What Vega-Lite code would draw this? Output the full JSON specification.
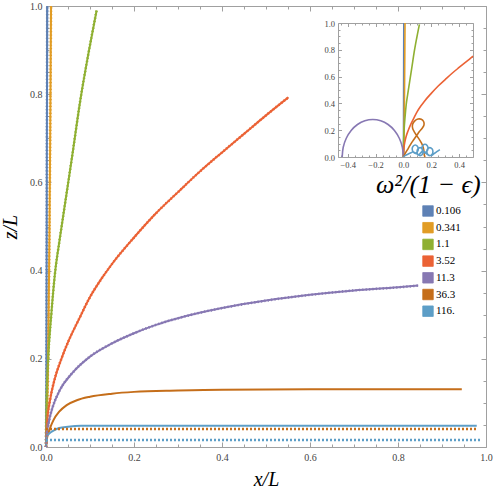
{
  "$schema": "https://vega.github.io/schema/vega-lite/v6.json",
  "width": 440,
  "height": 441,
  "autosize": {"type": "none"},
  "padding": {"left": 46, "top": 6, "right": 7, "bottom": 48},
  "background": "white",
  "config": {
    "view": {"stroke": null},
    "axis": {
      "grid": false,
      "labelFlush": false,
      "domainColor": "#a0a0a0",
      "domainWidth": 1,
      "tickColor": "#a0a0a0",
      "tickWidth": 1,
      "labelFont": "Liberation Serif",
      "labelColor": "#444444",
      "labelFontSize": 10,
      "titleFont": "Liberation Serif",
      "titleFontStyle": "italic",
      "titleFontWeight": "normal",
      "titleColor": "#000000",
      "titleFontSize": 20,
      "labelOverlap": false
    },
    "legend": {
      "orient": "none",
      "legendX": 330,
      "legendY": 166,
      "padding": 0,
      "titleFont": "Liberation Serif",
      "titleFontStyle": "italic",
      "titleFontWeight": "normal",
      "titleFontSize": 26,
      "titleColor": "#000000",
      "titleAnchor": "start",
      "titleAlign": "left",
      "titlePadding": 7,
      "labelFont": "Liberation Serif",
      "labelFontSize": 11,
      "labelColor": "#000000",
      "labelOffset": 2,
      "symbolOffset": 46,
      "symbolType": "square",
      "symbolSize": 110,
      "symbolStrokeColor": "rgba(0,0,0,0.35)",
      "symbolStrokeWidth": 0.8,
      "symbolOpacity": 1,
      "rowPadding": 2.7
    }
  },
  "datasets": {
    "main": [
      {"w": "0.106", "x": 0, "z": 0}, {"w": "0.106", "x": 0.0008, "z": 0.15}, {"w": "0.106", "x": 0.0012, "z": 0.3}, {"w": "0.106", "x": 0.0016, "z": 0.5}, {"w": "0.106", "x": 0.002, "z": 0.7}, {"w": "0.106", "x": 0.0024, "z": 0.85}, {"w": "0.106", "x": 0.0028, "z": 1.0},
      {"w": "0.341", "x": 0, "z": 0}, {"w": "0.341", "x": 0.002, "z": 0.05}, {"w": "0.341", "x": 0.004, "z": 0.15}, {"w": "0.341", "x": 0.006, "z": 0.3}, {"w": "0.341", "x": 0.008, "z": 0.5}, {"w": "0.341", "x": 0.0095, "z": 0.7}, {"w": "0.341", "x": 0.0105, "z": 0.85}, {"w": "0.341", "x": 0.0115, "z": 1.0},
      {"w": "1.1", "x": 0, "z": 0}, {"w": "1.1", "x": 0.001, "z": 0.09}, {"w": "1.1", "x": 0.005, "z": 0.2}, {"w": "1.1", "x": 0.012, "z": 0.3}, {"w": "1.1", "x": 0.02, "z": 0.39}, {"w": "1.1", "x": 0.031, "z": 0.47}, {"w": "1.1", "x": 0.043, "z": 0.55}, {"w": "1.1", "x": 0.061, "z": 0.67}, {"w": "1.1", "x": 0.077, "z": 0.78}, {"w": "1.1", "x": 0.096, "z": 0.89}, {"w": "1.1", "x": 0.115, "z": 0.99},
      {"w": "3.52", "x": 0, "z": 0}, {"w": "3.52", "x": 0.002, "z": 0.05}, {"w": "3.52", "x": 0.009, "z": 0.105}, {"w": "3.52", "x": 0.02, "z": 0.155}, {"w": "3.52", "x": 0.035, "z": 0.2}, {"w": "3.52", "x": 0.051, "z": 0.24}, {"w": "3.52", "x": 0.075, "z": 0.29}, {"w": "3.52", "x": 0.1, "z": 0.34}, {"w": "3.52", "x": 0.125, "z": 0.38}, {"w": "3.52", "x": 0.15, "z": 0.415}, {"w": "3.52", "x": 0.2, "z": 0.475}, {"w": "3.52", "x": 0.25, "z": 0.53}, {"w": "3.52", "x": 0.3, "z": 0.578}, {"w": "3.52", "x": 0.35, "z": 0.625}, {"w": "3.52", "x": 0.4, "z": 0.668}, {"w": "3.52", "x": 0.45, "z": 0.71}, {"w": "3.52", "x": 0.5, "z": 0.752}, {"w": "3.52", "x": 0.551, "z": 0.793},
      {"w": "11.3", "x": 0, "z": 0}, {"w": "11.3", "x": 0.002, "z": 0.03}, {"w": "11.3", "x": 0.006, "z": 0.055}, {"w": "11.3", "x": 0.015, "z": 0.09}, {"w": "11.3", "x": 0.032, "z": 0.13}, {"w": "11.3", "x": 0.06, "z": 0.168}, {"w": "11.3", "x": 0.1, "z": 0.205}, {"w": "11.3", "x": 0.15, "z": 0.235}, {"w": "11.3", "x": 0.2, "z": 0.258}, {"w": "11.3", "x": 0.25, "z": 0.277}, {"w": "11.3", "x": 0.3, "z": 0.292}, {"w": "11.3", "x": 0.4, "z": 0.315}, {"w": "11.3", "x": 0.5, "z": 0.332}, {"w": "11.3", "x": 0.6, "z": 0.345}, {"w": "11.3", "x": 0.7, "z": 0.355}, {"w": "11.3", "x": 0.8, "z": 0.362}, {"w": "11.3", "x": 0.846, "z": 0.366},
      {"w": "36.3", "x": 0, "z": 0}, {"w": "36.3", "x": 0.002, "z": 0.018}, {"w": "36.3", "x": 0.005, "z": 0.03}, {"w": "36.3", "x": 0.01, "z": 0.045}, {"w": "36.3", "x": 0.017, "z": 0.061}, {"w": "36.3", "x": 0.03, "z": 0.08}, {"w": "36.3", "x": 0.047, "z": 0.095}, {"w": "36.3", "x": 0.07, "z": 0.106}, {"w": "36.3", "x": 0.1, "z": 0.114}, {"w": "36.3", "x": 0.15, "z": 0.121}, {"w": "36.3", "x": 0.2, "z": 0.125}, {"w": "36.3", "x": 0.3, "z": 0.128}, {"w": "36.3", "x": 0.4, "z": 0.13}, {"w": "36.3", "x": 0.6, "z": 0.131}, {"w": "36.3", "x": 0.8, "z": 0.131}, {"w": "36.3", "x": 0.945, "z": 0.131},
      {"w": "116.", "x": 0, "z": 0}, {"w": "116.", "x": 0.0005, "z": 0.01}, {"w": "116.", "x": 0.0015, "z": 0.023}, {"w": "116.", "x": 0.008, "z": 0.031}, {"w": "116.", "x": 0.017, "z": 0.037}, {"w": "116.", "x": 0.03, "z": 0.043}, {"w": "116.", "x": 0.05, "z": 0.046}, {"w": "116.", "x": 0.08, "z": 0.048}, {"w": "116.", "x": 0.2, "z": 0.048}, {"w": "116.", "x": 0.5, "z": 0.048}, {"w": "116.", "x": 0.979, "z": 0.048}
    ],
    "dots": [
      {"w": "36.3", "x": 0, "z": 0.041}, {"w": "36.3", "x": 0.981, "z": 0.041},
      {"w": "116.", "x": 0, "z": 0.016}, {"w": "116.", "x": 0.99, "z": 0.016}
    ],
    "inset": [
      {"w": "11.3", "i": 0, "x": 0, "z": 0}, {"w": "11.3", "i": 1, "x": -0.0075, "z": 0.0725}, {"w": "11.3", "i": 2, "x": -0.0295, "z": 0.14}, {"w": "11.3", "i": 3, "x": -0.0644, "z": 0.198}, {"w": "11.3", "i": 4, "x": -0.11, "z": 0.2425}, {"w": "11.3", "i": 5, "x": -0.163, "z": 0.2705}, {"w": "11.3", "i": 6, "x": -0.22, "z": 0.28}, {"w": "11.3", "i": 7, "x": -0.277, "z": 0.2705}, {"w": "11.3", "i": 8, "x": -0.33, "z": 0.2425}, {"w": "11.3", "i": 9, "x": -0.3756, "z": 0.198}, {"w": "11.3", "i": 10, "x": -0.4105, "z": 0.14}, {"w": "11.3", "i": 11, "x": -0.4325, "z": 0.0725}, {"w": "11.3", "i": 12, "x": -0.44, "z": 0},
      {"w": "36.3", "i": 0, "x": 0, "z": 0}, {"w": "36.3", "i": 1, "x": 0.015, "z": 0.03}, {"w": "36.3", "i": 2, "x": 0.035, "z": 0.065}, {"w": "36.3", "i": 3, "x": 0.055, "z": 0.1}, {"w": "36.3", "i": 4, "x": 0.075, "z": 0.13}, {"w": "36.3", "i": 5, "x": 0.095, "z": 0.16}, {"w": "36.3", "i": 6, "x": 0.115, "z": 0.19}, {"w": "36.3", "i": 7, "x": 0.135, "z": 0.215}, {"w": "36.3", "i": 8, "x": 0.148, "z": 0.24}, {"w": "36.3", "i": 9, "x": 0.145, "z": 0.265}, {"w": "36.3", "i": 10, "x": 0.128, "z": 0.282}, {"w": "36.3", "i": 11, "x": 0.105, "z": 0.283}, {"w": "36.3", "i": 12, "x": 0.082, "z": 0.27}, {"w": "36.3", "i": 13, "x": 0.066, "z": 0.245}, {"w": "36.3", "i": 14, "x": 0.066, "z": 0.215}, {"w": "36.3", "i": 15, "x": 0.078, "z": 0.188}, {"w": "36.3", "i": 16, "x": 0.095, "z": 0.16}, {"w": "36.3", "i": 17, "x": 0.115, "z": 0.13}, {"w": "36.3", "i": 18, "x": 0.132, "z": 0.1}, {"w": "36.3", "i": 19, "x": 0.143, "z": 0.07}, {"w": "36.3", "i": 20, "x": 0.148, "z": 0.04}, {"w": "36.3", "i": 21, "x": 0.15, "z": 0.015}, {"w": "36.3", "i": 22, "x": 0.155, "z": 0.0},
      {"w": "116.", "i": 0, "x": 0, "z": 0}, {"w": "116.", "i": 1, "x": 0.015, "z": 0.012}, {"w": "116.", "i": 2, "x": 0.035, "z": 0.022}, {"w": "116.", "i": 3, "x": 0.055, "z": 0.032},
      {"w": "116.", "i": 4, "x": 0.0696, "z": 0.039}, {"w": "116.", "i": 5, "x": 0.085, "z": 0.03}, {"w": "116.", "i": 6, "x": 0.1004, "z": 0.039}, {"w": "116.", "i": 7, "x": 0.107, "z": 0.06}, {"w": "116.", "i": 8, "x": 0.1004, "z": 0.081}, {"w": "116.", "i": 9, "x": 0.085, "z": 0.09}, {"w": "116.", "i": 10, "x": 0.0696, "z": 0.081}, {"w": "116.", "i": 11, "x": 0.063, "z": 0.06}, {"w": "116.", "i": 12, "x": 0.072, "z": 0.036},
      {"w": "116.", "i": 13, "x": 0.1046, "z": 0.019}, {"w": "116.", "i": 14, "x": 0.12, "z": 0.01}, {"w": "116.", "i": 15, "x": 0.1354, "z": 0.019}, {"w": "116.", "i": 16, "x": 0.142, "z": 0.04}, {"w": "116.", "i": 17, "x": 0.1354, "z": 0.061}, {"w": "116.", "i": 18, "x": 0.12, "z": 0.07}, {"w": "116.", "i": 19, "x": 0.1046, "z": 0.061}, {"w": "116.", "i": 20, "x": 0.098, "z": 0.04}, {"w": "116.", "i": 21, "x": 0.107, "z": 0.016},
      {"w": "116.", "i": 22, "x": 0.1396, "z": 0.044}, {"w": "116.", "i": 23, "x": 0.155, "z": 0.035}, {"w": "116.", "i": 24, "x": 0.1704, "z": 0.044}, {"w": "116.", "i": 25, "x": 0.177, "z": 0.065}, {"w": "116.", "i": 26, "x": 0.1704, "z": 0.086}, {"w": "116.", "i": 27, "x": 0.155, "z": 0.095}, {"w": "116.", "i": 28, "x": 0.1396, "z": 0.086}, {"w": "116.", "i": 29, "x": 0.133, "z": 0.065}, {"w": "116.", "i": 30, "x": 0.142, "z": 0.041},
      {"w": "116.", "i": 31, "x": 0.1746, "z": 0.019}, {"w": "116.", "i": 32, "x": 0.19, "z": 0.01}, {"w": "116.", "i": 33, "x": 0.2054, "z": 0.019}, {"w": "116.", "i": 34, "x": 0.212, "z": 0.04}, {"w": "116.", "i": 35, "x": 0.2054, "z": 0.061}, {"w": "116.", "i": 36, "x": 0.19, "z": 0.07}, {"w": "116.", "i": 37, "x": 0.1746, "z": 0.061}, {"w": "116.", "i": 38, "x": 0.168, "z": 0.04}, {"w": "116.", "i": 39, "x": 0.177, "z": 0.016},
      {"w": "116.", "i": 40, "x": 0.2, "z": 0.012}, {"w": "116.", "i": 41, "x": 0.22, "z": 0.025}, {"w": "116.", "i": 42, "x": 0.24, "z": 0.04}, {"w": "116.", "i": 43, "x": 0.262, "z": 0.055}
    ]
  },
  "layer": [
    {
      "layer": [
        {
          "data": {"name": "main"},
          "transform": [{"filter": "false"}],
          "mark": {"type": "square", "filled": true},
          "encoding": {
            "color": {"field": "w", "type": "nominal",
              "scale": {"domain": ["0.106", "0.341", "1.1", "3.52", "11.3", "36.3", "116."], "range": ["#5E81B5", "#E19C24", "#8FB032", "#EB6235", "#8778B3", "#C56E1A", "#5D9EC7"]},
              "legend": {"title": "ω²/(1 − ϵ)", "symbolType": "square"}}
          }
        },
        {
          "data": {"name": "main"},
          "mark": {"type": "line", "strokeWidth": 2, "interpolate": "monotone"},
          "encoding": {
            "x": {"field": "x", "type": "quantitative", "scale": {"domain": [0, 1], "nice": false, "zero": false},
              "axis": {"orient": "bottom", "values": [0, 0.2, 0.4, 0.6, 0.8, 1], "format": ".1f", "tickSize": -5, "labelPadding": 10, "title": "x/L", "titlePadding": 7}},
            "y": {"field": "z", "type": "quantitative", "scale": {"domain": [0, 1], "nice": false, "zero": false},
              "axis": {"orient": "left", "values": [0, 0.2, 0.4, 0.6, 0.8, 1], "format": ".1f", "tickSize": -5, "labelPadding": 9, "title": "z/L", "titlePadding": 9}},
            "color": {"field": "w", "type": "nominal"}
          }
        },
        {
          "data": {"name": "main"},
          "transform": [{"filter": {"field": "w", "oneOf": ["0.106", "0.341", "1.1", "3.52", "11.3"]}}],
          "mark": {"type": "line", "strokeWidth": 2.6, "strokeDash": [1.2, 2.2], "interpolate": "monotone"},
          "encoding": {
            "x": {"field": "x", "type": "quantitative",
              "axis": {"orient": "bottom", "values": [0.05, 0.1, 0.15, 0.25, 0.3, 0.35, 0.45, 0.5, 0.55, 0.65, 0.7, 0.75, 0.85, 0.9, 0.95], "labels": false, "domain": false, "tickSize": -3, "title": null}},
            "y": {"field": "z", "type": "quantitative",
              "axis": {"orient": "left", "values": [0.05, 0.1, 0.15, 0.25, 0.3, 0.35, 0.45, 0.5, 0.55, 0.65, 0.7, 0.75, 0.85, 0.9, 0.95], "labels": false, "domain": false, "tickSize": -3, "title": null}},
            "color": {"field": "w", "type": "nominal"}
          }
        },
        {
          "data": {"name": "dots"},
          "transform": [{"filter": {"field": "w", "equal": "36.3"}}],
          "mark": {"type": "line", "strokeWidth": 2.5, "strokeDash": [2, 2]},
          "encoding": {
            "x": {"field": "x", "type": "quantitative",
              "axis": {"orient": "top", "values": [0, 0.2, 0.4, 0.6, 0.8, 1], "labels": false, "tickSize": -5, "title": null}},
            "y": {"field": "z", "type": "quantitative",
              "axis": {"orient": "right", "values": [0, 0.2, 0.4, 0.6, 0.8, 1], "labels": false, "tickSize": -5, "title": null}},
            "color": {"field": "w", "type": "nominal"}
          }
        },
        {
          "data": {"name": "dots"},
          "transform": [{"filter": {"field": "w", "equal": "116."}}],
          "mark": {"type": "line", "strokeWidth": 2.5, "strokeDash": [2, 2]},
          "encoding": {
            "x": {"field": "x", "type": "quantitative",
              "axis": {"orient": "top", "values": [0.05, 0.1, 0.15, 0.25, 0.3, 0.35, 0.45, 0.5, 0.55, 0.65, 0.7, 0.75, 0.85, 0.9, 0.95], "labels": false, "domain": false, "tickSize": -3, "title": null}},
            "y": {"field": "z", "type": "quantitative",
              "axis": {"orient": "right", "values": [0.05, 0.1, 0.15, 0.25, 0.3, 0.35, 0.45, 0.5, 0.55, 0.65, 0.7, 0.75, 0.85, 0.9, 0.95], "labels": false, "domain": false, "tickSize": -3, "title": null}},
            "color": {"field": "w", "type": "nominal"}
          }
        }
      ],
      "resolve": {"axis": {"x": "independent", "y": "independent"}}
    },
    {
      "layer": [
        {
          "data": {"name": "main"},
          "transform": [{"filter": {"field": "w", "oneOf": ["0.106", "0.341", "1.1", "3.52"]}}, {"filter": "datum.x <= 0.5"}],
          "mark": {"type": "line", "strokeWidth": 1.6, "interpolate": "monotone"},
          "encoding": {
            "x": {"field": "x", "type": "quantitative", "scale": {"domain": [-0.47, 0.5], "range": [292, 427], "nice": false, "zero": false},
              "axis": {"orient": "bottom", "offset": -290, "values": [-0.4, -0.2, 0, 0.2, 0.4], "format": ".1f", "tickSize": -3.5, "labelPadding": 7, "labelFontSize": 8.5, "title": null}},
            "y": {"field": "z", "type": "quantitative", "scale": {"domain": [0, 1], "range": [151, 17], "nice": false, "zero": false},
              "axis": {"orient": "left", "offset": -292, "values": [0, 0.2, 0.4, 0.6, 0.8, 1], "format": ".1f", "tickSize": -3.5, "labelPadding": 7, "labelFontSize": 8.5, "title": null}},
            "color": {"field": "w", "type": "nominal"}
          }
        },
        {
          "data": {"name": "inset"},
          "transform": [{"filter": {"field": "w", "equal": "11.3"}}],
          "mark": {"type": "line", "strokeWidth": 1.6, "interpolate": "catmull-rom"},
          "encoding": {
            "x": {"field": "x", "type": "quantitative",
              "axis": {"orient": "bottom", "offset": -290, "values": [-0.45, -0.35, -0.3, -0.25, -0.15, -0.1, -0.05, 0.05, 0.1, 0.15, 0.25, 0.3, 0.35, 0.45], "labels": false, "domain": false, "tickSize": -2, "title": null}},
            "y": {"field": "z", "type": "quantitative",
              "axis": {"orient": "left", "offset": -292, "values": [0.05, 0.1, 0.15, 0.25, 0.3, 0.35, 0.45, 0.5, 0.55, 0.65, 0.7, 0.75, 0.85, 0.9, 0.95], "labels": false, "domain": false, "tickSize": -2, "title": null}},
            "order": {"field": "i", "type": "quantitative"},
            "color": {"field": "w", "type": "nominal"}
          }
        },
        {
          "data": {"name": "inset"},
          "transform": [{"filter": {"field": "w", "equal": "36.3"}}],
          "mark": {"type": "line", "strokeWidth": 1.6, "interpolate": "catmull-rom"},
          "encoding": {
            "x": {"field": "x", "type": "quantitative",
              "axis": {"orient": "top", "offset": -17, "values": [-0.4, -0.2, 0, 0.2, 0.4], "labels": false, "tickSize": -3.5, "title": null}},
            "y": {"field": "z", "type": "quantitative",
              "axis": {"orient": "right", "offset": -13, "values": [0, 0.2, 0.4, 0.6, 0.8, 1], "labels": false, "tickSize": -3.5, "title": null}},
            "order": {"field": "i", "type": "quantitative"},
            "color": {"field": "w", "type": "nominal"}
          }
        },
        {
          "data": {"name": "inset"},
          "transform": [{"filter": {"field": "w", "equal": "116."}}],
          "mark": {"type": "line", "strokeWidth": 1.6, "interpolate": "catmull-rom"},
          "encoding": {
            "x": {"field": "x", "type": "quantitative",
              "axis": {"orient": "top", "offset": -17, "values": [-0.45, -0.35, -0.3, -0.25, -0.15, -0.1, -0.05, 0.05, 0.1, 0.15, 0.25, 0.3, 0.35, 0.45], "labels": false, "domain": false, "tickSize": -2, "title": null}},
            "y": {"field": "z", "type": "quantitative",
              "axis": {"orient": "right", "offset": -13, "values": [0.05, 0.1, 0.15, 0.25, 0.3, 0.35, 0.45, 0.5, 0.55, 0.65, 0.7, 0.75, 0.85, 0.9, 0.95], "labels": false, "domain": false, "tickSize": -2, "title": null}},
            "order": {"field": "i", "type": "quantitative"},
            "color": {"field": "w", "type": "nominal"}
          }
        }
      ],
      "resolve": {"axis": {"x": "independent", "y": "independent"}}
    }
  ],
  "resolve": {"scale": {"x": "independent", "y": "independent"}}
}
